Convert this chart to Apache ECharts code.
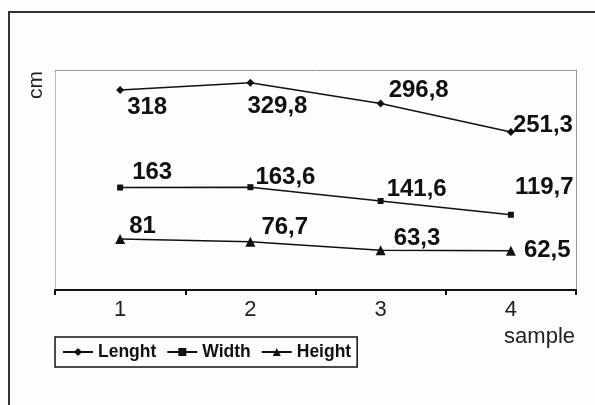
<!DOCTYPE html>
<html><head><meta charset="utf-8">
<script src="https://cdn.jsdelivr.net/npm/echarts@6/dist/echarts.min.js"></script>
<style>html,body{margin:0;padding:0;background:#fff}#c{width:595px;height:405px}</style>
</head><body><div id="c"></div>
<script>
var categories = ['1', '2', '3', '4'];
var lengthVals = [318, 329.8, 296.8, 251.3];
var widthVals = [163, 163.6, 141.6, 119.7];
var heightVals = [81, 76.7, 63.3, 62.5];
var seriesNames = ['Lenght', 'Width', 'Height'];

// label placement offsets (style only)
var lengthOff = [[7, 17], [-3, 24], [8, -13], [2, -7]];
var widthOff = [[12, -15], [5, -10], [6, -12], [4, -27]];
var heightOff = [[9, -13], [11, -14], [13, -12], [13, 0]];

function fmt(v) { return String(v).replace('.', ','); }
function build(vals, offs) {
  return vals.map(function (v, i) {
    return { value: v, label: { offset: offs[i] } };
  });
}
var FONT = '"Liberation Sans", Arial, sans-serif';
var labelBase = {
  show: true, position: 'inside', align: 'left', verticalAlign: 'middle',
  color: '#111', fontFamily: FONT, fontWeight: 'bold', fontSize: 24,
  formatter: function (p) { return fmt(p.value); }
};
function mkSeries(name, vals, offs, symbol, size) {
  return {
    name: name, type: 'line', data: build(vals, offs), symbol: symbol, symbolSize: size,
    showAllSymbol: true, animation: false,
    lineStyle: { color: '#111', width: 1.5 }, itemStyle: { color: '#111' },
    label: labelBase, emphasis: { disabled: true }
  };
}
var chart = echarts.init(document.getElementById('c'));
chart.setOption({
  backgroundColor: '#fdfdfd',
  animation: false,
  grid: { left: 55, right: 19, top: 70, bottom: 115 },
  xAxis: [{
    type: 'category', data: categories, boundaryGap: true,
    axisLine: { onZero: false, lineStyle: { color: '#111', width: 2 } },
    axisTick: { show: true, length: 5, lineStyle: { color: '#111', width: 2 } },
    axisLabel: { fontFamily: FONT, fontSize: 22, color: '#222', margin: 9 },
    splitLine: { show: false }
  }, {
    type: 'category', data: categories, position: 'top',
    axisLine: { onZero: false, lineStyle: { color: '#999', width: 1 } },
    axisTick: { show: false }, axisLabel: { show: false }
  }],
  yAxis: [{
    type: 'value', min: 0, max: 350,
    axisLine: { show: true, onZero: false, lineStyle: { color: '#aaa', width: 1, type: 'dotted' } },
    axisTick: { show: false }, axisLabel: { show: false }, splitLine: { show: false }
  }, {
    type: 'value', min: 0, max: 350, position: 'right',
    axisLine: { show: true, onZero: false, lineStyle: { color: '#999', width: 1 } },
    axisTick: { show: false }, axisLabel: { show: false }, splitLine: { show: false }
  }],
  legend: {
    data: seriesNames, left: 55, top: 337, orient: 'horizontal',
    padding: [6, 6, 6, 7], itemGap: 10, itemWidth: 30, itemHeight: 10,
    borderColor: '#111', borderWidth: 1.5, borderRadius: 0,
    textStyle: { fontFamily: FONT, fontWeight: 'bold', fontSize: 17.5, color: '#111' }
  },
  series: [
    mkSeries(seriesNames[0], lengthVals, lengthOff, 'diamond', 8),
    mkSeries(seriesNames[1], widthVals, widthOff, 'rect', 6),
    mkSeries(seriesNames[2], heightVals, heightOff, 'triangle', 10)
  ],
  graphic: [
    { type: 'rect', shape: { x: 9, y: 12, width: 640, height: 440 }, silent: true,
      style: { fill: 'none', stroke: '#333', lineWidth: 2 }, z: 100 },
    { type: 'text', x: 36, y: 85, rotation: Math.PI / 2, silent: true,
      style: { text: 'cm', fontFamily: FONT, fontSize: 21, fill: '#222', align: 'center', verticalAlign: 'middle' } },
    { type: 'text', x: 575, y: 337, silent: true,
      style: { text: 'sample', fontFamily: FONT, fontSize: 22, fill: '#222', align: 'right', verticalAlign: 'middle' } }
  ]
});
</script></body></html>
